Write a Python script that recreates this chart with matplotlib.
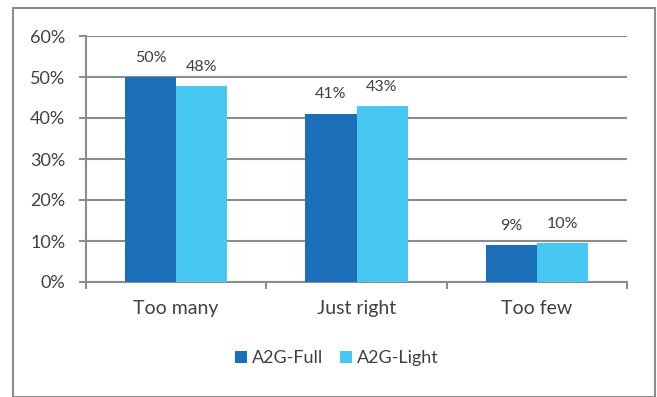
import matplotlib
matplotlib.use('Agg')
import matplotlib.pyplot as plt
from matplotlib.patches import Rectangle
import numpy as np

# data
categories = ['Too many', 'Just right', 'Too few']
full_vals = [50.0, 41.0, 9.0]
light_vals = [47.7, 42.9, 9.4]
full_labels = ['50%', '41%', '9%']
light_labels = ['48%', '43%', '10%']
series_names = ['A2G-Full', 'A2G-Light']

c_full = '#1B6FB8'
c_light = '#46C8F3'
grid_c = '#8C8C8C'
txt_c = '#404040'

plt.rcParams['font.family'] = ['Lato', 'DejaVu Sans']

fig = plt.figure(figsize=(6.57, 3.97), dpi=100)
ax = fig.add_axes([86 / 657, 1 - 282 / 397, 541 / 657, 246 / 397])

x = np.arange(len(categories))
w = 0.283
b1 = ax.bar(x - w / 2, full_vals, w, color=c_full, label=series_names[0], zorder=3)
b2 = ax.bar(x + w / 2, light_vals, w, color=c_light, label=series_names[1], zorder=3)

for bars, labs in [(b1, full_labels), (b2, light_labels)]:
    for bar, lab in zip(bars, labs):
        ax.annotate(lab, (bar.get_x() + bar.get_width() / 2, bar.get_height()),
                    xytext=(0, 9), textcoords='offset points', ha='center', va='bottom',
                    fontsize=11.5, color=txt_c)

ax.set_xlim(-0.5, 2.5)
ax.set_ylim(0, 60)
ax.set_yticks(range(0, 61, 10))
ax.set_yticklabels([f'{v}%' for v in range(0, 61, 10)])
ax.yaxis.grid(True, color=grid_c, linewidth=1.5, zorder=0)
ax.set_xticks(x)
ax.set_xticklabels(categories)
ax.set_xticks([-0.5, 0.5, 1.5, 2.5], minor=True)
ax.tick_params(axis='x', which='major', length=0, pad=13, labelsize=14, labelcolor=txt_c)
ax.tick_params(axis='x', which='minor', length=5, width=1.5, color=grid_c)
ax.tick_params(axis='y', length=5, width=1.5, color=grid_c, labelsize=13, labelcolor=txt_c, pad=10)

for s in ['top', 'right']:
    ax.spines[s].set_visible(False)
for s in ['left', 'bottom']:
    ax.spines[s].set_color(grid_c)
    ax.spines[s].set_linewidth(1.5)

leg = fig.legend(loc='center', bbox_to_anchor=(337 / 657, 1 - 358 / 397), ncol=2, frameon=False,
                 fontsize=13, handlelength=0.65, handleheight=0.65, handletextpad=0.3, columnspacing=0.9)
for t in leg.get_texts():
    t.set_color(txt_c)

fig.patches.append(Rectangle((13 / 657, 0.5 / 397), 642 / 657, 389 / 397, transform=fig.transFigure,
                             fill=False, edgecolor='#8C8C8C', linewidth=1.5))

fig.savefig('out.png', dpi=100)
